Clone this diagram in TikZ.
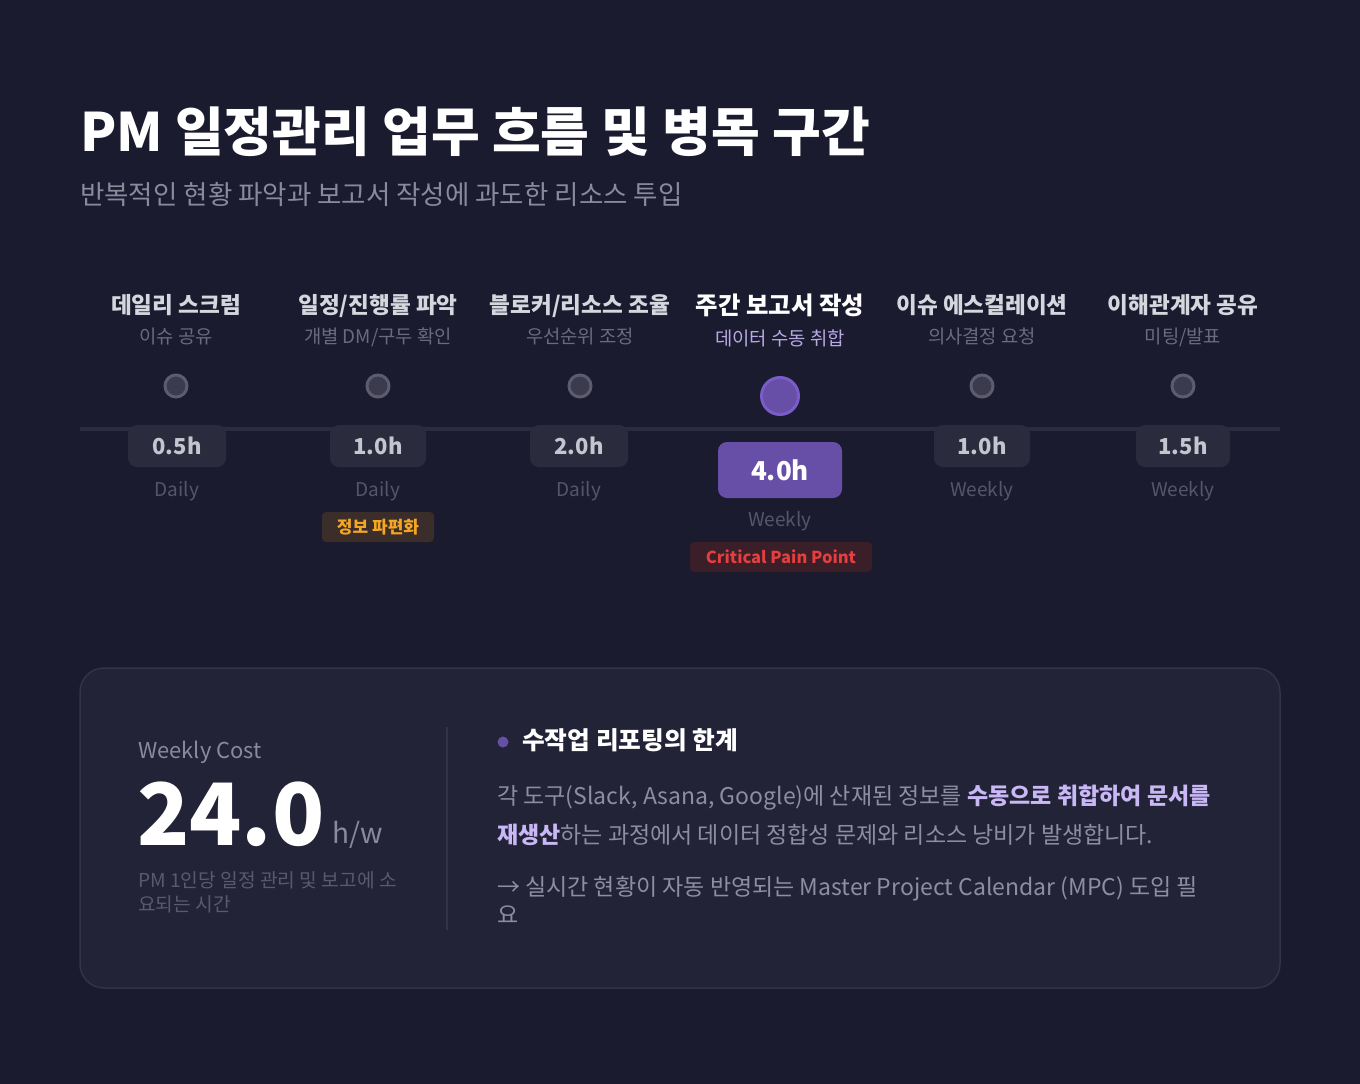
\documentclass[tikz,border=0pt]{standalone}
\usepackage{fontspec}
\setmainfont{Noto Sans CJK KR}
\definecolor{bg}{HTML}{1A1B2E}
\definecolor{card}{HTML}{222336}
\definecolor{cardline}{HTML}{323347}
\definecolor{pill}{HTML}{2A2B3D}
\definecolor{pilltext}{HTML}{C5C5CF}
\definecolor{head}{HTML}{D6D6DE}
\definecolor{subg}{HTML}{6B6B7D}
\definecolor{freq}{HTML}{55566A}
\definecolor{purp}{HTML}{674EA7}
\definecolor{purpring}{HTML}{7A5CC8}
\definecolor{purplite}{HTML}{B9A9E6}
\definecolor{dotfill}{HTML}{3B3B4D}
\definecolor{dotring}{HTML}{5C5C6E}
\definecolor{tagobg}{HTML}{3A2D2A}
\definecolor{tago}{HTML}{F5A623}
\definecolor{tagrbg}{HTML}{3A1E28}
\definecolor{tagr}{HTML}{E53E3E}
\definecolor{bodyg}{HTML}{8E8EA0}
\definecolor{hil}{HTML}{C9B8F5}
\definecolor{lineg}{HTML}{2C2C40}
\definecolor{subtl}{HTML}{8A8A9A}
\definecolor{small}{HTML}{5A5A6C}
\tikzset{
  txt/.style={inner sep=0pt, anchor=base},
  colhead/.style={txt, text=head, font=\bfseries\fontsize{22.6}{26}\selectfont},
  colsub/.style={txt, text=subg, font=\fontsize{18.8}{22}\selectfont},
  dotsmall/.style={circle, draw=dotring, fill=dotfill, line width=3pt, minimum size=22pt, inner sep=0pt},
  dotbig/.style={circle, draw=purpring, fill=purp, line width=3pt, minimum size=37pt, inner sep=0pt},
  hpill/.style={rounded corners=9pt, fill=pill, text=pilltext, minimum height=42pt, inner sep=0pt, font=\bfseries\fontsize{22}{26}\selectfont},
  freqtxt/.style={txt, text=freq, font=\fontsize{19}{22}\selectfont},
  tag/.style={rounded corners=4pt, minimum height=30pt, inner sep=0pt, font=\bfseries\fontsize{17}{20}\selectfont},
  bodytxt/.style={txt, anchor=base west, text=bodyg, font=\fontsize{23}{27}\selectfont},
}
\begin{document}
\begin{tikzpicture}[x=1pt,y=-1pt]
\fill[bg] (0,0) rectangle (1360,1084);
\useasboundingbox (0,0) rectangle (1360,1084);

% title
\node[txt, anchor=base west, text=white, font=\bfseries\fontsize{53}{62}\selectfont] (title) at (80,151) {PM 일정관리 업무 흐름 및 병목 구간};
\node[txt, anchor=base west, text=subtl, font=\fontsize{26.5}{30}\selectfont] (subtitle) at (80,204) {반복적인 현황 파악과 보고서 작성에 과도한 리소스 투입};

% timeline
\coordinate (tl0) at (80,429);
\coordinate (tl1) at (1280,429);
\draw[lineg, line width=4pt] (tl0) -- (tl1);

% column 1
\node[colhead] (h1) at (176,313) {데일리 스크럼};
\node[colsub] (s1) at (176,343) {이슈 공유};
\node[dotsmall] (d1) at (176,386) {};
\node[hpill, minimum width=98pt] (p1) at (177,446) {0.5h};
\node[freqtxt] (f1) at (177,496) {Daily};

% column 2
\node[colhead] (h2) at (378,313) {일정/진행률 파악};
\node[colsub] (s2) at (378,343) {개별 DM/구두 확인};
\node[dotsmall] (d2) at (378,386) {};
\node[hpill, minimum width=96pt] (p2) at (378,446) {1.0h};
\node[freqtxt] (f2) at (378,496) {Daily};
\node[tag, fill=tagobg, text=tago, minimum width=112pt] (t2) at (378,527) {정보 파편화};

% column 3
\node[colhead] (h3) at (580,313) {블로커/리소스 조율};
\node[colsub] (s3) at (580,343) {우선순위 조정};
\node[dotsmall] (d3) at (580,386) {};
\node[hpill, minimum width=98pt] (p3) at (579,446) {2.0h};
\node[freqtxt] (f3) at (579,496) {Daily};

% column 4 (critical)
\node[colhead, text=white, font=\bfseries\fontsize{24.4}{28}\selectfont] (h4) at (780,314) {주간 보고서 작성};
\node[colsub, text=purplite] (s4) at (780,345) {데이터 수동 취합};
\node[dotbig] (d4) at (780,396) {};
\node[rounded corners=9pt, fill=purp, text=white, minimum width=124pt, minimum height=56pt, inner sep=0pt, font=\bfseries\fontsize{26}{30}\selectfont] (p4) at (780,470) {4.0h};
\node[freqtxt] (f4) at (780,526) {Weekly};
\node[tag, fill=tagrbg, text=tagr, minimum width=182pt, font=\bfseries\fontsize{16.5}{20}\selectfont] (t4) at (781,557) {Critical Pain Point};

% column 5
\node[colhead] (h5) at (982,313) {이슈 에스컬레이션};
\node[colsub] (s5) at (982,343) {의사결정 요청};
\node[dotsmall] (d5) at (982,386) {};
\node[hpill, minimum width=96pt] (p5) at (982,446) {1.0h};
\node[freqtxt] (f5) at (982,496) {Weekly};

% column 6
\node[colhead] (h6) at (1183,313) {이해관계자 공유};
\node[colsub] (s6) at (1183,343) {미팅/발표};
\node[dotsmall] (d6) at (1183,386) {};
\node[hpill, minimum width=94pt] (p6) at (1183,446) {1.5h};
\node[freqtxt] (f6) at (1183,496) {Weekly};

% card
\draw[fill=card, draw=cardline, line width=1.5pt, rounded corners=24pt] (80,668) rectangle (1280,988);
\node[txt, anchor=base west, text=subtl, font=\fontsize{21.9}{25}\selectfont] (wc) at (138,758) {Weekly Cost};
\node[txt, anchor=base west, text=white, font=\bfseries\fontsize{86}{96}\selectfont] (big) at (137,845) {24.0};
\node[txt, anchor=base west, text=subtl, font=\fontsize{28}{32}\selectfont] (unit) at (332,843) {h/w};
\node[txt, anchor=base west, text=small, font=\fontsize{19.2}{22}\selectfont] (n1) at (138,887) {PM 1인당 일정 관리 및 보고에 소};
\node[txt, anchor=base west, text=small, font=\fontsize{19.2}{22}\selectfont] (n2) at (138,911) {요되는 시간};
\coordinate (dv0) at (447,727);
\coordinate (dv1) at (447,930);
\draw[cardline, line width=2pt] (dv0) -- (dv1);

\node[circle, fill=purp, minimum size=11pt, inner sep=0pt] (bul) at (503,742) {};
\node[txt, anchor=base west, text=white, font=\bfseries\fontsize{24.7}{28}\selectfont] (ch) at (522,749) {수작업 리포팅의 한계};
\node[bodytxt] (b1) at (497,804) {각 도구(Slack, Asana, Google)에 산재된 정보를 \textbf{\color{hil}수동으로 취합하여 문서를}};
\node[bodytxt] (b2) at (497,843) {\textbf{\color{hil}재생산}하는 과정에서 데이터 정합성 문제와 리소스 낭비가 발생합니다.};
\node[bodytxt] (b3) at (497,895) {→ 실시간 현황이 자동 반영되는 Master Project Calendar (MPC) 도입 필};
\node[bodytxt] (b4) at (497,923) {요};
\end{tikzpicture}
\end{document}
